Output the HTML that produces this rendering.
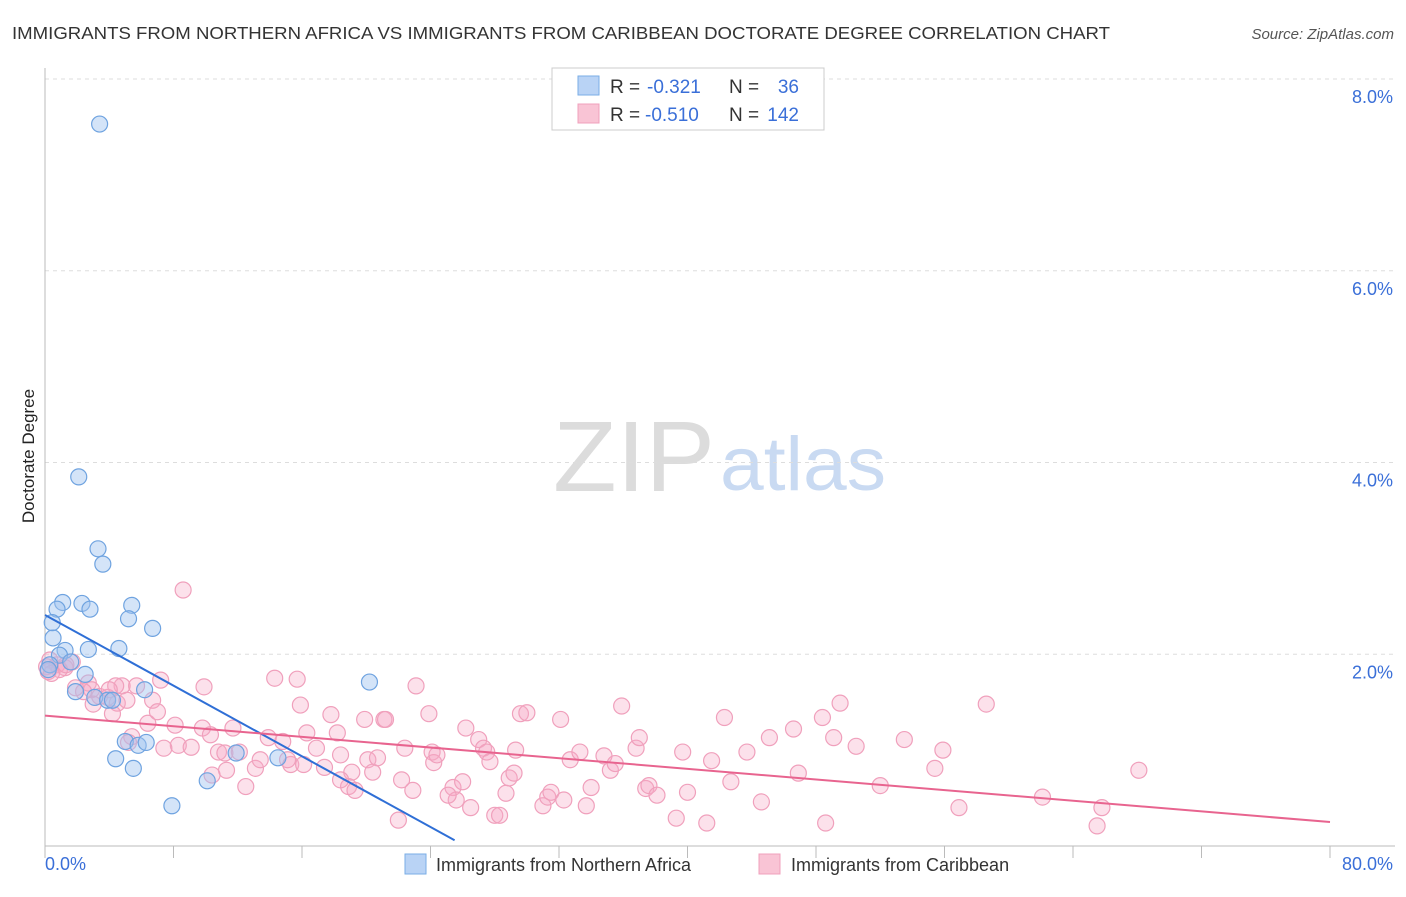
<!DOCTYPE html>
<html><head><meta charset="utf-8">
<style>
body{margin:0;background:#fff;font-family:"Liberation Sans",sans-serif;}
svg text{font-family:"Liberation Sans",sans-serif;}
</style></head>
<body>
<svg id="chart" width="1406" height="892">
<text x="12" y="39" font-size="17.5" fill="#333" textLength="1098" lengthAdjust="spacingAndGlyphs">IMMIGRANTS FROM NORTHERN AFRICA VS IMMIGRANTS FROM CARIBBEAN DOCTORATE DEGREE CORRELATION CHART</text>
<text x="1394" y="39" font-size="15" fill="#555" font-style="italic" text-anchor="end">Source: ZipAtlas.com</text>
<g>
<text x="553" y="491" font-size="100" fill="#dcdcdc" font-family="Liberation Serif" textLength="162" lengthAdjust="spacingAndGlyphs">ZIP</text>
<text x="720" y="490" font-size="76" fill="#c9daf2" textLength="166" lengthAdjust="spacingAndGlyphs">atlas</text>
</g>
<g id="grid"></g>
<g id="axes"></g>
<g id="pts"></g>
<g id="trends"></g>
<text x="34" y="456" font-size="17" fill="#222" transform="rotate(-90 34 456)" text-anchor="middle">Doctorate Degree</text>
<g>
<rect x="552" y="68" width="272" height="62" fill="#fff" stroke="#ccc"/>
<rect x="578" y="76" width="21" height="19" fill="#b9d3f5" stroke="#7aaee6"/>
<rect x="578" y="104" width="21" height="19" fill="#f9c4d5" stroke="#f0a0bc"/>
<text x="610" y="93" font-size="19" fill="#333">R =</text>
<text x="647" y="93" font-size="19" fill="#3a6fd8">-0.321</text>
<text x="729" y="93" font-size="19" fill="#333">N =</text>
<text x="799" y="93" font-size="19" fill="#3a6fd8" text-anchor="end">36</text>
<text x="610" y="121" font-size="19" fill="#333">R =</text>
<text x="645" y="121" font-size="19" fill="#3a6fd8">-0.510</text>
<text x="729" y="121" font-size="19" fill="#333">N =</text>
<text x="799" y="121" font-size="19" fill="#3a6fd8" text-anchor="end">142</text>
</g>
<g>
<rect x="405" y="854" width="21" height="20" fill="#b9d3f5" stroke="#7aaee6"/>
<text x="436" y="871" font-size="18" fill="#333">Immigrants from Northern Africa</text>
<rect x="759" y="854" width="21" height="20" fill="#f9c4d5" stroke="#f0a0bc"/>
<text x="791" y="871" font-size="18" fill="#333">Immigrants from Caribbean</text>
</g>
</svg>
<script>
const yTicks=[2,4,6,8];
const yTickLabels=["2.0%","4.0%","6.0%","8.0%"];
const xTicks=[0,8,16,24,32,40,48,56,64,72,80];
const xTickLabels=["0.0%","80.0%"];
const blueX=[3.4,2.1,3.3,3.6,1.1,0.75,2.3,2.8,5.4,5.2,6.7,0.5,0.45,4.6,2.7,1.25,0.9,1.6,0.3,2.5,1.9,3.1,3.9,4.2,6.2,5.0,5.8,6.3,4.4,5.5,11.9,14.5,10.1,7.9,20.2,0.2];
const blueY=[7.53,3.85,3.10,2.94,2.54,2.47,2.53,2.47,2.51,2.37,2.27,2.17,2.33,2.06,2.05,2.04,1.99,1.92,1.89,1.79,1.61,1.55,1.52,1.52,1.63,1.09,1.05,1.08,0.91,0.81,0.97,0.92,0.68,0.42,1.71,1.84];
const pinkX=[8.6,0.3,0.75,1.25,1.7,0.9,0.2,2.7,2.9,2.4,3.4,3.9,4.5,4.2,5.7,4.8,7.2,5.1,6.7,6.4,5.4,5.2,7.0,8.1,8.3,7.4,9.8,9.1,9.9,10.3,11.7,10.8,11.3,10.4,12.5,12.1,13.1,13.4,13.9,14.3,15.7,14.8,15.3,16.1,16.3,16.9,17.8,18.2,17.4,18.4,19.1,18.9,19.3,20.1,20.4,20.7,21.1,21.2,22.4,22.2,22.9,23.1,22.0,23.9,24.1,24.2,24.4,25.4,26.0,26.2,27.0,27.3,27.5,27.7,26.5,25.6,28.0,28.3,28.7,28.9,29.2,29.6,30.0,29.3,31.0,31.3,31.5,32.1,32.3,32.7,33.3,33.7,34.0,34.8,35.2,35.5,35.9,36.8,37.0,37.4,37.6,38.1,39.3,39.7,40.0,41.2,41.5,42.3,42.7,43.7,44.6,45.1,46.6,46.9,48.4,48.6,49.1,49.5,50.5,52.0,53.5,55.4,55.9,56.9,58.6,62.1,65.5,65.8,68.1,3.0,1.9,1.3,4.4,11.2,4.0,15.1,15.9,18.4,19.9,25.1,0.1,0.4];
const pinkY=[2.67,1.94,1.89,1.86,1.92,1.84,1.82,1.70,1.63,1.61,1.56,1.55,1.49,1.38,1.67,1.67,1.73,1.52,1.52,1.28,1.14,1.08,1.40,1.26,1.05,1.02,1.23,1.03,1.66,1.16,1.23,0.98,0.79,0.74,0.62,0.98,0.81,0.90,1.13,1.75,1.74,1.09,0.85,0.85,1.18,1.02,1.37,1.18,0.82,0.95,0.77,0.62,0.58,0.90,0.77,0.92,1.32,1.32,1.02,0.69,0.58,1.67,0.27,1.38,0.98,0.87,0.95,0.61,0.67,1.23,1.11,1.02,0.98,0.88,0.40,0.48,0.32,0.32,0.55,0.71,0.76,1.38,1.39,1.00,0.42,0.51,0.56,1.32,0.48,0.90,0.98,0.42,0.61,0.94,0.79,0.86,1.46,1.02,1.13,0.60,0.63,0.53,0.29,0.98,0.56,0.24,0.89,1.34,0.67,0.98,0.46,1.13,1.22,0.76,1.34,0.24,1.13,1.49,1.04,0.63,1.11,0.81,1.00,0.40,1.48,0.51,0.21,0.40,0.79,1.48,1.65,1.89,1.67,0.97,1.63,0.90,1.47,0.69,1.32,0.53,1.87,1.80];
const blueTrend=[[0,2.41],[25.5,0.06]];
const pinkTrend=[[0,1.36],[80,0.25]];
const X0=45,X1=1330,Y0=846,YTOP=79;
const sx=v=>X0+(X1-X0)*v/80;
const sy=v=>Y0-(Y0-YTOP)*v/8;
const NS="http://www.w3.org/2000/svg";
function mk(parent,tag,attrs){const e=document.createElementNS(NS,tag);for(const k in attrs)e.setAttribute(k,attrs[k]);parent.appendChild(e);return e;}
const grid=document.getElementById('grid'),axes=document.getElementById('axes'),pts=document.getElementById('pts'),tr=document.getElementById('trends');
yTicks.forEach((t,i)=>{
 const l=mk(grid,'line',{x1:X0,x2:1395,y1:sy(t),y2:sy(t),stroke:'#ddd','stroke-dasharray':'4 4'});
 
 
 const tx=mk(axes,'text',{x:1393,y:sy(t)+24,'font-size':18,fill:'#3a6fd8','text-anchor':'end'});
 tx.textContent=yTickLabels[i];
 
 
});
const ax=mk(axes,'line',{x1:X0,x2:X0,y1:68,y2:Y0,stroke:'#bbb'});


const bx=mk(axes,'line',{x1:X0,x2:1395,y1:Y0,y2:Y0,stroke:'#bbb'});


xTicks.forEach(t=>{
 const l=mk(axes,'line',{x1:sx(t),x2:sx(t),y1:Y0,y2:Y0+12,stroke:'#bbb'});
 
 
});
const xl0=mk(axes,'text',{x:45,y:870,'font-size':18,fill:'#3a6fd8'});xl0.textContent=xTickLabels[0];


const xl1=mk(axes,'text',{x:1393,y:870,'font-size':18,fill:'#3a6fd8','text-anchor':'end'});xl1.textContent=xTickLabels[1];


pinkX.forEach((v,i)=>{
 const c=mk(pts,'circle',{cx:sx(v),cy:sy(pinkY[i]),r:8,fill:'rgba(246,170,197,0.35)',stroke:'#f0a0bc','stroke-width':1.2});
 
 
});
blueX.forEach((v,i)=>{
 const c=mk(pts,'circle',{cx:sx(v),cy:sy(blueY[i]),r:8,fill:'rgba(160,195,240,0.45)',stroke:'#6fa3e0','stroke-width':1.2});
 
 
});
const bt=mk(tr,'line',{x1:sx(blueTrend[0][0]),y1:sy(blueTrend[0][1]),x2:sx(blueTrend[1][0]),y2:sy(blueTrend[1][1]),stroke:'#2f6fd6','stroke-width':2});


const pt=mk(tr,'line',{x1:sx(pinkTrend[0][0]),y1:sy(pinkTrend[0][1]),x2:sx(pinkTrend[1][0]),y2:sy(pinkTrend[1][1]),stroke:'#e8648f','stroke-width':2});


</script>
</body></html>
